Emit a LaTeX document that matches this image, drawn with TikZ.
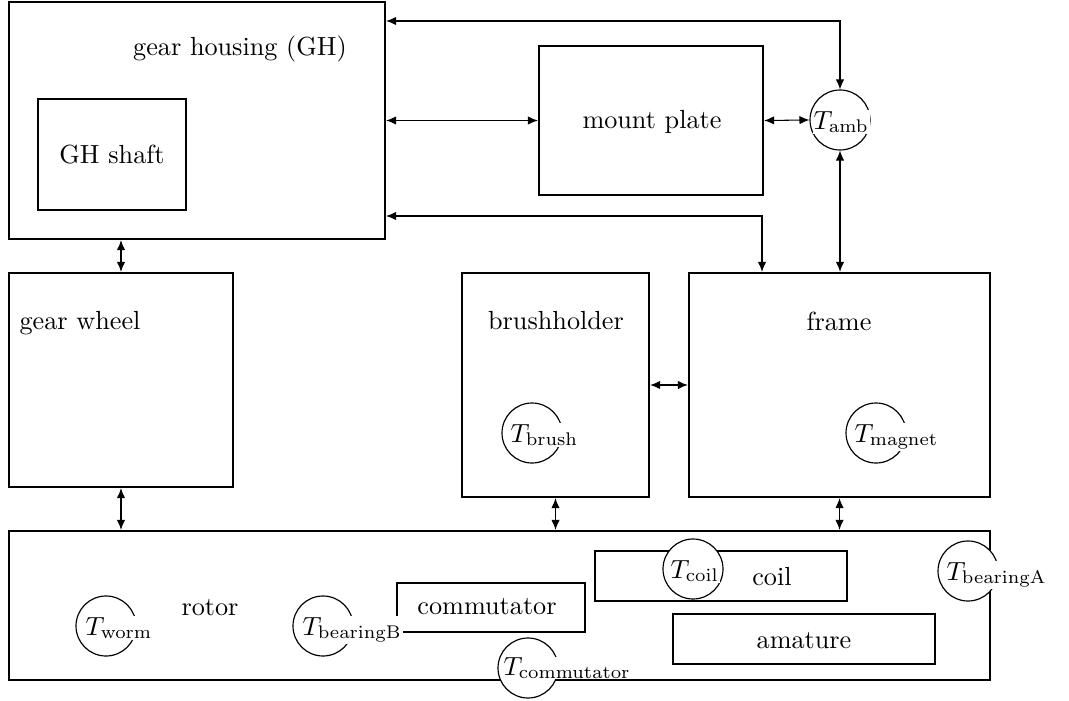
\documentclass[tikz,border=0pt]{standalone}
\usetikzlibrary{arrows.meta,fit,calc}
\tikzset{
  box/.style={draw, line width=0.9pt, inner sep=0pt},
  txt/.style={inner sep=0pt},
  conn/.style={line width=0.4pt, {Latex[length=3.8pt,width=3.2pt]}-{Latex[length=3.8pt,width=3.2pt]}},
  tcirc/.style={circle, draw, fill=white, line width=0.45pt, minimum size=22.9pt, inner sep=0pt},
  tlab/.style={fill=white, inner sep=0.4pt, anchor=base west}
}
\begin{document}
\begin{tikzpicture}[x=0.3817pt,y=-0.3817pt]
\useasboundingbox (0,0) rectangle (1069,701);
% boxes
\node[box, fit={(9,2)(385,239)}] (gh) {};
\node[box, fit={(38,99)(186,210)}] (ghs) {};
\node[box, fit={(539,46)(763,195)}] (mp) {};
\node[box, fit={(9,273)(233,487)}] (gw) {};
\node[box, fit={(462,273)(649,497)}] (bh) {};
\node[box, fit={(689,273)(990,497)}] (fr) {};
\node[box, fit={(9,531)(990,680)}] (rot) {};
\node[box, fit={(397,583)(585,632)}] (com) {};
\node[box, fit={(595,551)(847,601)}] (coil) {};
\node[box, fit={(673,614)(935,664)}] (am) {};
% texts
\node[txt] (ghT) at (240,49) {gear housing (GH)};
\node[txt] (ghsT) at (112,155) {GH shaft};
\node[txt] (mpT) at (652,122) {mount plate};
\node[txt] (gwT) at (80,323) {gear wheel};
\node[txt] (bhT) at (556,321) {brushholder};
\node[txt] (frT) at (839,321) {frame};
\node[txt] (rotT) at (210,608) {rotor};
\node[txt] (comT) at (487,607) {commutator};
\node[txt] (coilT) at (772,577) {coil};
\node[txt] (amT) at (804,641) {amature};
% temperature circles
\node[tcirc] (Tamb) at (840,120) {};
\node[tcirc] (Tbrush) at (532,433) {};
\node[tcirc] (Tmagnet) at (876,433) {};
\node[tcirc] (Tworm) at (106,626) {};
\node[tcirc] (TbearingB) at (323,626) {};
\node[tcirc] (Tcomm) at (528,668) {};
\node[tcirc] (Tcoil) at (693,569) {};
\node[tcirc] (TbearingA) at (968,571) {};
% connectors
\coordinate (c1) at (840,21);
\coordinate (c2) at (762,216);
\draw[conn] (gh.east|-c1) -- (c1) -- (Tamb.north);
\draw[conn] (gh.east|-mp.west) -- (mp.west);
\draw[conn] (mp.east) -- (Tamb.west);
\draw[conn] (gh.east|-c2) -- (c2) -- (c2|-fr.north);
\draw[conn] (Tamb.south) -- (Tamb.south|-fr.north);
\draw[conn] (gw.north|-gh.south) -- (gw.north);
\draw[conn] (gw.south) -- (gw.south|-rot.north);
\draw[conn] (bh.east) -- (fr.west);
\draw[conn] (bh.south) -- (bh.south|-rot.north);
\draw[conn] (fr.south) -- (fr.south|-rot.north);
% temperature labels
\node[tlab] (TambL) at (812,129) {$T_{\mathrm{amb}}$};
\node[tlab] (TbrushL) at (509,442) {$T_{\mathrm{brush}}$};
\node[tlab] (TmagnetL) at (853,442) {$T_{\mathrm{magnet}}$};
\node[tlab] (TwormL) at (84,635) {$T_{\mathrm{worm}}$};
\node[tlab] (TbearingBL) at (301,635) {$T_{\mathrm{bearingB}}$};
\node[tlab, inner sep=0pt] (TcommL) at (503,675) {$T_{\mathrm{commutator}}$};
\node[tlab] (TcoilL) at (669,578) {$T_{\mathrm{coil}}$};
\node[tlab] (TbearingAL) at (945,580) {$T_{\mathrm{bearingA}}$};
\end{tikzpicture}
\end{document}
